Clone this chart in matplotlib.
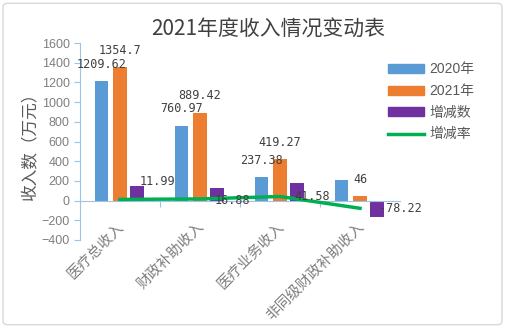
import numpy as np
import matplotlib
matplotlib.use('Agg')
import matplotlib.pyplot as plt
from matplotlib.patches import FancyBboxPatch, Patch
from matplotlib.lines import Line2D

plt.rcParams['font.family'] = ['Liberation Sans', 'Noto Sans CJK SC', 'DejaVu Sans']

# données
categories = ['医疗总收入', '财政补助收入', '医疗业务收入', '非同级财政补助收入']
v2020 = [1209.62, 760.97, 237.38, 211.2]
v2021 = [1354.7, 889.42, 419.27, 46]
diff = [145.08, 128.45, 181.89, -165.2]
rate = [11.99, 16.88, 41.58, -78.22]
lab2020 = ['1209.62', '760.97', '237.38', '']
lab2021 = ['1354.7', '889.42', '419.27', '46']
lab_rate = ['11.99', '16.88', '41.58', '-78.22']

c_blue = '#5B9BD5'
c_orange = '#ED7D31'
c_purple = '#7030A0'
c_green = '#00B050'
c_axis = '#9DC3E6'
c_tick = '#7F7F7F'

fig = plt.figure(figsize=(5.05, 3.28), dpi=100)
ax = fig.add_axes([80 / 505, 88 / 328, 320 / 505, 197 / 328])

x = np.arange(len(categories))
w = 0.17
ax.bar(x - 0.23, v2020, w, color=c_blue, zorder=2)
ax.bar(x, v2021, w, color=c_orange, zorder=2)
ax.bar(x + 0.21, diff, w, color=c_purple, zorder=2)
ax.plot(x, rate, color=c_green, lw=2.5, zorder=4)

mono = 'DejaVu Sans Mono'
for i in range(len(x)):
    if lab2020[i]:
        ax.annotate(lab2020[i], (x[i] - 0.23, v2020[i]), xytext=(0, 17), textcoords='offset pixels',
                    ha='center', va='center', family=mono, fontsize=8.5, color='#404040', zorder=5)
    if lab2021[i]:
        ax.annotate(lab2021[i], (x[i], v2021[i]), xytext=(0, 17), textcoords='offset pixels',
                    ha='center', va='center', family=mono, fontsize=8.5, color='#404040', zorder=5)

# étiquettes du taux
offs = [(37, 18), (32, -2), (32, 0), (40, 0)]
for i in range(len(x)):
    ax.annotate(lab_rate[i], (x[i], rate[i]), xytext=offs[i], textcoords='offset pixels',
                ha='center', va='center', family=mono, fontsize=8.5, color='#404040', zorder=5)

# catégories
for i, c in enumerate(categories):
    ax.annotate(c, (x[i], 0), xytext=(7, -19), textcoords='offset pixels', rotation=45,
                ha='right', va='top', fontsize=10.5, color=c_tick, family=['Noto Sans CJK SC'])

ax.set_xlim(-0.5, 3.5)
ax.set_ylim(-400, 1600)
ax.set_yticks(np.arange(-400, 1601, 200))
ax.set_xticks([0.5, 1.5, 2.5])
ax.set_xticklabels([])
ax.tick_params(axis='x', direction='out', length=4, color=c_axis)
ax.tick_params(axis='y', direction='out', length=4, color=c_axis, labelcolor=c_tick, labelsize=9)
for s in ['top', 'right']:
    ax.spines[s].set_visible(False)
ax.spines['left'].set_color(c_axis)
ax.spines['bottom'].set_color(c_axis)
ax.spines['bottom'].set_position(('data', 0))
ax.patch.set_alpha(0)

ax.set_ylabel('收入数（万元）', fontsize=12, color='#595959', family=['Noto Sans CJK SC'], labelpad=2)

fig.text(268 / 505, 1 - 30 / 328, '2021年度收入情况变动表', ha='center', va='center',
         fontsize=15, color='#404040', family=['Noto Sans CJK SC'])

handles = [Patch(color=c_blue), Patch(color=c_orange), Patch(color=c_purple),
           Line2D([], [], color=c_green, lw=2.5)]
fig.legend(handles, ['2020年', '2021年', '增减数', '增减率'], loc='upper left',
           bbox_to_anchor=(375 / 505, 1 - 50 / 328), frameon=False,
           handlelength=2.6, handleheight=0.6, labelspacing=0.55, handletextpad=0.4,
           labelcolor='#595959', prop={'family': ['Liberation Sans', 'Noto Sans CJK SC'], 'size': 10})

fig.patches.append(FancyBboxPatch((0.006, 0.01), 0.988, 0.98, boxstyle='round,pad=0,rounding_size=0.01',
                                  transform=fig.transFigure, fc='none', ec='#D9D9D9', lw=1))

fig.savefig('out.png', dpi=100)
